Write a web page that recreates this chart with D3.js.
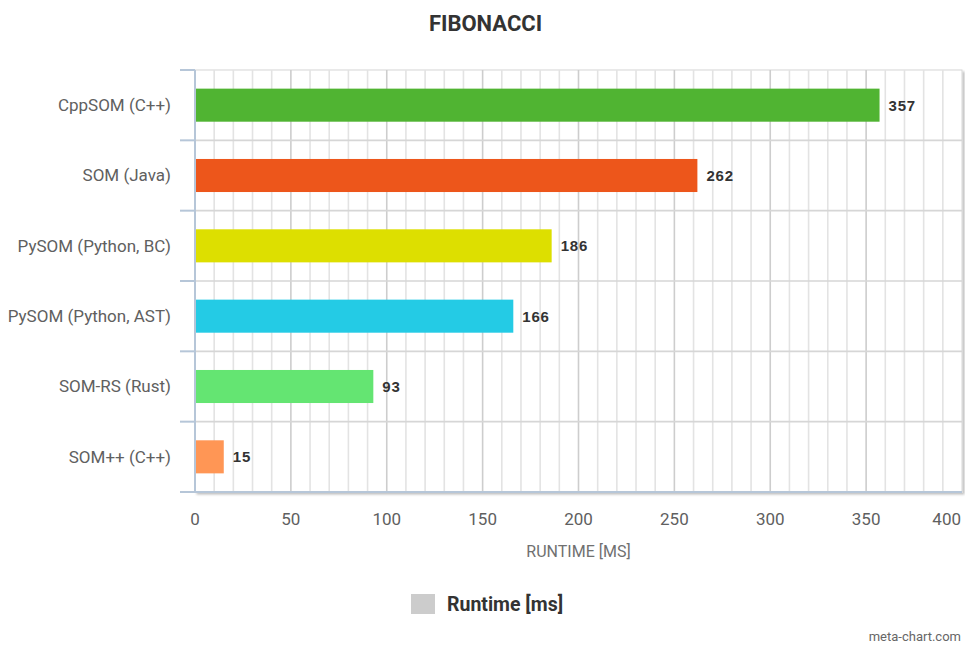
<!DOCTYPE html>
<html>
<head>
<meta charset="utf-8">
<script src="https://cdn.jsdelivr.net/npm/d3@7"></script>
<style>
  html, body { margin: 0; padding: 0; background: #fff; }
  svg { display: block; }
</style>
</head>
<body>
<svg id="chart" width="965" height="646"></svg>
<script>
// Runtime benchmark data
const categories = ["CppSOM (C++)", "SOM (Java)", "PySOM (Python, BC)", "PySOM (Python, AST)", "SOM-RS (Rust)", "SOM++ (C++)"];
const runtimes = [357, 262, 186, 166, 93, 15];
const barColors = ["#50B432", "#ED561B", "#DDDF00", "#24CBE5", "#64E572", "#FF9655"];
const xTicks = [0, 50, 100, 150, 200, 250, 300, 350, 400];
const chartTitle = "FIBONACCI";
const axisTitle = "RUNTIME [MS]";
const seriesName = "Runtime [ms]";
const credit = "meta-chart.com";

const W = 965, H = 646;
const margin = { top: 70, right: 3, bottom: 154, left: 195 };
const plotW = W - margin.left - margin.right;
const plotH = H - margin.top - margin.bottom;

const labelFont = "Roboto, 'Liberation Sans', sans-serif";

const svg = d3.select("#chart");

const x = d3.scaleLinear().domain([0, 400]).range([0, plotW]);
const y = d3.scaleBand().domain(categories).range([0, plotH]).paddingInner(0).paddingOuter(0);

// soft shadow under the plot frame
const defs = svg.append("defs");
const f = defs.append("filter").attr("id", "shadow").attr("x", "-5%").attr("y", "-5%").attr("width", "110%").attr("height", "110%");
f.append("feDropShadow").attr("dx", 2).attr("dy", 2).attr("stdDeviation", 1.2).attr("flood-color", "#000").attr("flood-opacity", 0.25);

const g = svg.append("g").attr("transform", `translate(${margin.left},${margin.top})`);

g.append("rect")
  .attr("x", 0).attr("y", 0).attr("width", plotW).attr("height", plotH)
  .attr("fill", "#fff").attr("stroke", "#d6d6d6").attr("stroke-width", 1)
  .attr("filter", "url(#shadow)");

// vertical grid: minor every 10, major every 50
const minor = d3.range(10, 400, 10).filter(v => v % 50 !== 0);
g.append("g").selectAll("line").data(minor).join("line")
  .attr("x1", d => x(d)).attr("x2", d => x(d))
  .attr("y1", 0).attr("y2", plotH)
  .attr("stroke", "#e3e3e3").attr("stroke-width", 1.6);
g.append("g").selectAll("line").data(xTicks.filter(v => v > 0 && v < 400)).join("line")
  .attr("x1", d => x(d)).attr("x2", d => x(d))
  .attr("y1", 0).attr("y2", plotH)
  .attr("stroke", "#cdcdcd").attr("stroke-width", 1.6);

// horizontal grid at category boundaries
const bounds = categories.map(c => y(c)).concat([plotH]);
g.append("g").selectAll("line").data(bounds.slice(1, -1)).join("line")
  .attr("x1", 0).attr("x2", plotW)
  .attr("y1", d => d).attr("y2", d => d)
  .attr("stroke", "#d6d6d6").attr("stroke-width", 1.6);

// bars
const barH = y.bandwidth() * 0.47;
g.append("g").selectAll("rect").data(runtimes).join("rect")
  .attr("x", x(0) + 1)
  .attr("y", (d, i) => y(categories[i]) + (y.bandwidth() - barH) / 2)
  .attr("width", d => x(d) - x(0) - 1)
  .attr("height", barH)
  .attr("fill", (d, i) => barColors[i]);

// value labels
g.append("g").selectAll("text").data(runtimes).join("text")
  .attr("x", d => x(d) + 9)
  .attr("y", (d, i) => y(categories[i]) + y.bandwidth() / 2)
  .attr("dy", "0.36em")
  .attr("font-family", "'Liberation Sans', Arial, sans-serif")
  .attr("font-weight", "bold")
  .attr("font-size", 15)
  .attr("letter-spacing", 0.8)
  .attr("fill", "#333")
  .text(d => d);

// left axis with ticks at band boundaries
const axisColor = "#b6c6d8";
g.append("line").attr("x1", 0).attr("x2", 0).attr("y1", 0).attr("y2", plotH)
  .attr("stroke", axisColor).attr("stroke-width", 2);
g.append("g").selectAll("line").data(bounds).join("line")
  .attr("x1", -15).attr("x2", 0)
  .attr("y1", d => d).attr("y2", d => d)
  .attr("stroke", axisColor).attr("stroke-width", 2);
g.append("line").attr("x1", 0).attr("x2", plotW).attr("y1", plotH).attr("y2", plotH)
  .attr("stroke", axisColor).attr("stroke-width", 2);

// category labels
g.append("g").selectAll("text").data(categories).join("text")
  .attr("x", -24)
  .attr("y", d => y(d) + y.bandwidth() / 2)
  .attr("dy", "0.35em")
  .attr("text-anchor", "end")
  .attr("font-family", labelFont)
  .attr("font-size", 17)
  .attr("fill", "#606060")
  .text(d => d);

// x tick labels (last one kept inside the plot edge)
g.append("g").selectAll("text").data(xTicks).join("text")
  .attr("x", d => d === 400 ? x(d) - 1 : x(d))
  .attr("y", plotH + 33)
  .attr("text-anchor", d => d === 400 ? "end" : "middle")
  .attr("font-family", labelFont)
  .attr("font-size", 17)
  .attr("fill", "#606060")
  .text(d => d);

// axis title
g.append("text")
  .attr("x", plotW / 2).attr("y", plotH + 65)
  .attr("text-anchor", "middle")
  .attr("font-family", labelFont)
  .attr("font-size", 16)
  .attr("fill", "#707070")
  .text(axisTitle);

// chart title
svg.append("text")
  .attr("x", W / 2 + 3).attr("y", 31)
  .attr("text-anchor", "middle")
  .attr("font-family", labelFont)
  .attr("font-weight", "bold")
  .attr("font-size", 22)
  .attr("fill", "#333")
  .text(chartTitle);

// legend
const lg = svg.append("g").attr("transform", "translate(411,594)");
lg.append("rect").attr("width", 24).attr("height", 20).attr("fill", "#cccccc");
lg.append("text").attr("x", 36).attr("y", 10).attr("dy", "0.36em")
  .attr("font-family", labelFont).attr("font-weight", "bold")
  .attr("font-size", 19.5).attr("fill", "#333")
  .text(seriesName);

// credit
svg.append("text")
  .attr("x", 961).attr("y", 641)
  .attr("text-anchor", "end")
  .attr("font-family", labelFont)
  .attr("font-size", 13)
  .attr("fill", "#666")
  .text(credit);
</script>
</body>
</html>
